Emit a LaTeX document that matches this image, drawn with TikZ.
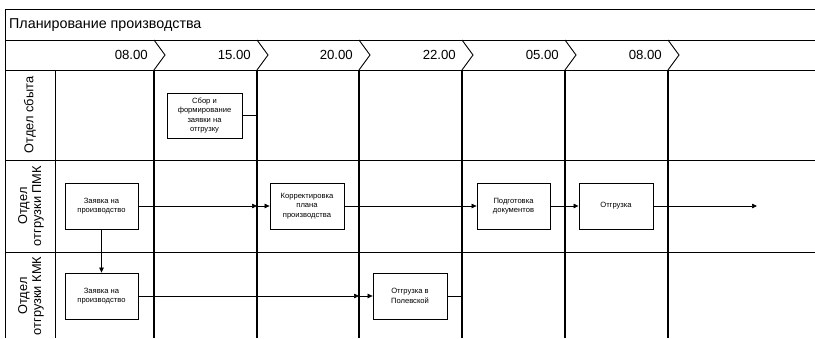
\documentclass[tikz,border=0pt]{standalone}
\usepackage{fontspec}
\setmainfont{Liberation Sans}
\usetikzlibrary{arrows.meta}
\begin{document}
\begin{tikzpicture}[x=1pt,y=-1pt,
  frame/.style={line width=0.9pt},
  divider/.style={line width=1.6pt},
  box/.style={draw,fill=white,line width=0.8pt,minimum width=73pt,minimum height=46pt,inner sep=1pt,align=center,font=\fontsize{7.6}{9.5}\selectfont},
  conn/.style={line width=0.7pt},
  arr/.style={conn,-{Triangle[length=5pt,width=4.5pt]}},
  lanelabel/.style={rotate=90,align=center,font=\fontsize{12.8}{14}\selectfont},
  hdr/.style={anchor=east,font=\fontsize{13.2}{14}\selectfont}]

\useasboundingbox (0,0) rectangle (815,338);

% frame
\draw[frame] (815,9) -- (5,9) -- (5,338);
\foreach \yy in {40,70,160,252} \draw[frame] (5,\yy) -- (815,\yy);
\draw[frame] (55,70) -- (55,338);

\node[anchor=west,font=\fontsize{14.3}{16}\selectfont,inner sep=0pt] (title) at (9,25) {Планирование производства};

% time dividers
\foreach \xx/\tt in {154/08.00,257/15.00,359/20.00,462/22.00,565/05.00,668/08.00} {
  \coordinate (d\xx) at (\xx,70);
  \draw[frame] (\xx,40) -- (\xx+11,55) -- (\xx,70);
  \draw[divider] (\xx,70) -- (\xx,338);
  \node[hdr,inner sep=0pt] (t\xx) at (\xx-6,55) {\tt};
}

% lane labels
\node[lanelabel] (l1) at (30,115) {Отдел сбыта};
\node[lanelabel] (l2) at (31,206) {Отдел\\отгрузки ПМК};
\node[lanelabel] (l3) at (31,296) {Отдел\\отгрузки КМК};

% boxes
\node[box,minimum width=75pt,minimum height=45pt] (s1) at (204.5,115.5) {Сбор и\\формирование\\заявки на\\отгрузку};
\node[box] (p1) at (101.5,206) {Заявка на\\производство};
\node[box,minimum width=74pt] (p2) at (307,206) {Корректировка\\плана\\производства};
\node[box] (p3) at (513.5,206) {Подготовка\\документов};
\node[box,minimum width=74pt,line width=0.95pt] (p4) at (616,206) {Отгрузка};
\node[box] (k1) at (101.5,296) {Заявка на\\производство};
\node[box,minimum width=74pt] (k2) at (410,296) {Отгрузка в\\Полевской};

\coordinate (fend) at (757,206);

% connectors
\draw[conn] (s1.east) -- (s1.east -| d257);
\draw[arr] (p1.east) -- (p1.east -| d257);
\draw[arr] (p1.east -| d257) -- (p2.west);
\draw[arr] (p2.east) -- (p3.west);
\draw[arr] (p3.east) -- (p4.west);
\draw[arr] (p4.east) -- (fend);
\draw[arr] (p1.south) -- (k1.north);
\draw[arr] (k1.east) -- (k1.east -| d359);
\draw[arr] (k1.east -| d359) -- (k2.west);
\draw[conn] (k2.east) -- (k2.east -| d462);
\end{tikzpicture}
\end{document}
